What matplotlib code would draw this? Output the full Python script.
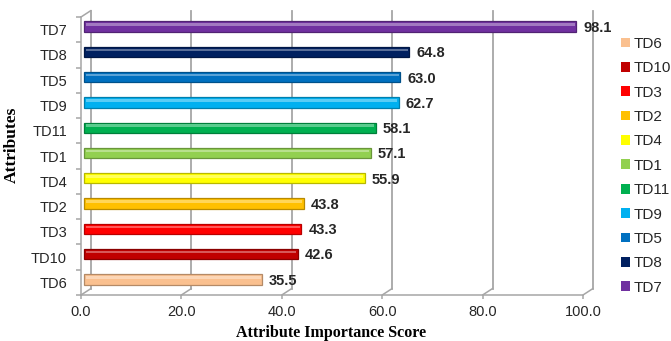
import numpy as np
import matplotlib
matplotlib.use('Agg')
import matplotlib.pyplot as plt
import matplotlib.colors as mcolors
from matplotlib.patches import Patch
from matplotlib.transforms import ScaledTranslation

# ------------------------------- Data --------------------------------
attributes = ['TD6', 'TD10', 'TD3', 'TD2', 'TD4', 'TD1', 'TD11', 'TD9', 'TD5', 'TD8', 'TD7']
scores = [35.5, 42.6, 43.3, 43.8, 55.9, 57.1, 58.1, 62.7, 63.0, 64.8, 98.1]
bar_colors = ['#FAC08F', '#C00000', '#FF0000', '#FFC000', '#FFFF00', '#92D050',
              '#00B050', '#00B0F0', '#0070C0', '#002060', '#7030A0']
x_ticks = [0, 20, 40, 60, 80, 100]

grid_col = '#A6A6A6'
text_col = '#262626'

fig = plt.figure(figsize=(6.71, 3.41), dpi=100)
ax = fig.add_axes([81/671, 46/341, 502/671, 278/341])
ax.set_xlim(0, 100)
ax.set_ylim(-0.5, len(attributes) - 0.5)
ax.patch.set_visible(False)

# depth of the back wall (pixels -> inches)
wall = ScaledTranslation(10/100, 6.5/100, fig.dpi_scale_trans)
mid = ScaledTranslation(3/100, 3/100, fig.dpi_scale_trans)
wall_tr = ax.transData + wall
bar_tr = ax.transData + mid

# back wall gridlines
y0, y1 = -0.5, len(attributes) - 0.5
for xt in x_ticks:
    ax.plot([xt, xt], [y0, y1], color=grid_col, lw=1.3, transform=wall_tr,
            clip_on=False, zorder=1)
    # floor edge from front tick to the wall
    ax.annotate('', xy=(xt, y0), xycoords=wall_tr, xytext=(xt, y0),
                textcoords='data',
                arrowprops=dict(arrowstyle='-', color=grid_col, lw=1.1,
                                shrinkA=0, shrinkB=0))
ax.annotate('', xy=(0, y1), xycoords=wall_tr, xytext=(0, y1), textcoords='data',
            arrowprops=dict(arrowstyle='-', color=grid_col, lw=1.1,
                            shrinkA=0, shrinkB=0))

# bars drawn as cylinders: base colour, darker edge, light highlight
ypos = np.arange(len(attributes))
dark = [tuple(c * 0.72 for c in mcolors.to_rgb(col)) for col in bar_colors]
light = [tuple(c + (1 - c) * 0.35 for c in mcolors.to_rgb(col)) for col in bar_colors]
bars = ax.barh(ypos, scores, height=0.41, color=bar_colors, edgecolor=dark,
               linewidth=0.9, zorder=3)
for p in bars.patches:
    p.set_transform(bar_tr)
    p.set_clip_on(False)
hl = ax.barh(ypos + 0.08, np.array(scores) - 0.6, left=0.3, height=0.1,
             color=light, linewidth=0, zorder=4)
for p in hl.patches:
    p.set_transform(bar_tr)
    p.set_clip_on(False)

for i, v in enumerate(scores):
    ax.annotate(f'{v:.1f}', xy=(v, i), xycoords=bar_tr, xytext=(5, -1),
                textcoords='offset points', va='center', ha='left',
                fontsize=10.5, fontweight='bold', color=text_col,
                family='Liberation Sans', zorder=5)

# front axes
for s in ['top', 'right']:
    ax.spines[s].set_visible(False)
for s in ['left', 'bottom']:
    ax.spines[s].set_color(grid_col)
    ax.spines[s].set_linewidth(1.1)

ax.set_yticks(ypos)
ax.set_yticklabels(attributes, fontsize=10.5, family='Liberation Sans', color=text_col)
ax.set_yticks(np.arange(-0.5, len(attributes)), minor=True)
ax.tick_params(axis='y', which='major', length=0, pad=10)
ax.tick_params(axis='y', which='minor', length=3.6, color=grid_col, width=1.1)

ax.set_xticks(x_ticks)
ax.set_xticklabels([f'{t:.1f}' for t in x_ticks], fontsize=10.5,
                   family='Liberation Sans', color=text_col)
ax.tick_params(axis='x', length=3, color=grid_col, width=1.1, pad=4)

fig.text(331/671, 1 - 333/341, 'Attribute Importance Score', ha='center', va='center',
         fontsize=11.5, fontweight='bold', family='Liberation Serif', color='black')
fig.text(12/671, 1 - 145/341, 'Attributes', ha='center', va='center', rotation=90,
         fontsize=12.5, fontweight='bold', family='Liberation Serif', color='black')

# legend in reverse order of the bars
handles = [Patch(facecolor=c, edgecolor='none') for c in bar_colors]
fig.legend(handles, attributes, loc='center left', bbox_to_anchor=(621/671, 0.514),
           frameon=False, borderpad=0, borderaxespad=0, handlelength=0.6,
           handleheight=0.6, handletextpad=0.2, labelspacing=0.68,
           prop={'family': 'Liberation Sans', 'size': 11}, labelcolor=text_col)

fig.savefig('out.png', dpi=100)
